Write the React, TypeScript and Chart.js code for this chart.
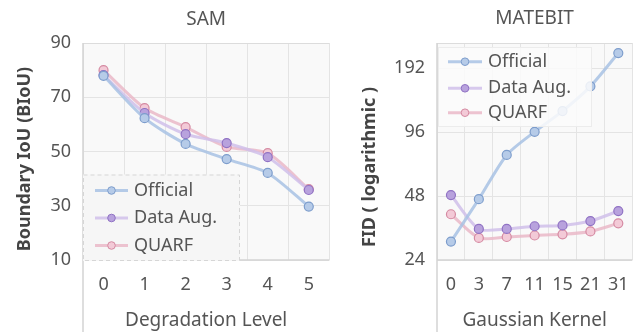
import React, { useEffect, useRef } from "react";
import { Chart, registerables } from "chart.js";
Chart.register(...registerables);

// ---- data ----
const samLevels = ["0", "1", "2", "3", "4", "5"];
const samOfficial = [77.9, 62.3, 52.8, 47.2, 42.1, 29.7];
const samDataAug = [78.2, 64.2, 56.4, 53.1, 47.9, 35.8];
const samQuarf = [80.0, 66.0, 59.0, 51.7, 49.4, 36.1];
const samTicks = [10, 30, 50, 70, 90];

const kernels = ["0", "3", "7", "11", "15", "21", "31"];
const mbOfficial = [29.3, 46.4, 74.9, 96.3, 120.5, 157.5, 226];
const mbDataAug = [48.5, 33.6, 33.6, 34.6, 34.9, 36.6, 40.8];
const mbQuarf = [39.4, 30.5, 30.8, 31.3, 31.7, 32.7, 35.7];
const mbTicks = [24, 48, 96, 192];

const seriesNames = ["Official", "Data Aug.", "QUARF"];

// ---- styles ----
const FONT = "'Noto Sans', 'DejaVu Sans', sans-serif";
const TEXT = "#555";
const GRID = "#e4e4e4";
const seriesStyles = [
  { line: "rgba(168,194,228,0.85)", fill: "#b6cbe8", edge: "#7d9dcc" },
  { line: "rgba(208,192,234,0.85)", fill: "#b8a2dd", edge: "#9072c4" },
  { line: "rgba(234,184,200,0.85)", fill: "#f3cad7", edge: "#d58aa2" },
];

const makeDatasets = (vals: number[][]) =>
  vals.map((v, i) => ({
    label: seriesNames[i],
    data: v,
    borderColor: seriesStyles[i].line,
    borderWidth: 3,
    pointRadius: 4.5,
    pointBorderWidth: 1.2,
    pointBackgroundColor: seriesStyles[i].fill,
    pointBorderColor: seriesStyles[i].edge,
    tension: 0.25,
  }));

const framePlugin = {
  id: "frame",
  beforeDraw(chart: any) {
    const { ctx, chartArea: ca } = chart;
    ctx.save();
    ctx.fillStyle = "#f9f9f9";
    ctx.fillRect(ca.left, ca.top, ca.right - ca.left, ca.bottom - ca.top);
    ctx.restore();
  },
  beforeDatasetsDraw(chart: any) {
    const { ctx, chartArea: ca } = chart;
    ctx.save();
    ctx.strokeStyle = "#dcdcdc";
    ctx.lineWidth = 1;
    ctx.beginPath();
    ctx.moveTo(ca.left, ca.top + 0.5);
    ctx.lineTo(ca.right, ca.top + 0.5);
    ctx.stroke();
    ctx.strokeStyle = "#d4d4d4";
    ctx.lineWidth = 1.5;
    ctx.beginPath();
    ctx.moveTo(ca.left, ca.bottom);
    ctx.lineTo(ca.right, ca.bottom);
    ctx.moveTo(ca.left, ca.top);
    ctx.lineTo(ca.left, chart.height);
    ctx.stroke();
    ctx.restore();
  },
};

const legendPlugin = {
  id: "boxLegend",
  afterDatasetsDraw(chart: any, _a: any, o: any) {
    const { ctx, chartArea: ca } = chart;
    ctx.save();
    const bx = ca.left + o.box[0];
    const by = ca.top + o.box[1];
    ctx.fillStyle = o.fill;
    ctx.fillRect(bx, by, o.box[2], o.box[3]);
    ctx.strokeStyle = o.border;
    ctx.lineWidth = 1;
    ctx.setLineDash(o.dash);
    ctx.strokeRect(bx + 0.5, by + 0.5, o.box[2] - 1, o.box[3] - 1);
    ctx.setLineDash([]);
    chart.data.datasets.forEach((ds: any, i: number) => {
      const y = ca.top + o.rows[i];
      const x0 = ca.left + o.line[0];
      const x1 = ca.left + o.line[1];
      ctx.strokeStyle = ds.borderColor;
      ctx.lineWidth = 3;
      ctx.beginPath();
      ctx.moveTo(x0, y);
      ctx.lineTo(x1, y);
      ctx.stroke();
      ctx.beginPath();
      ctx.arc((x0 + x1) / 2, y, o.r, 0, Math.PI * 2);
      ctx.fillStyle = ds.pointBackgroundColor;
      ctx.fill();
      ctx.lineWidth = 1;
      ctx.strokeStyle = ds.pointBorderColor;
      ctx.stroke();
      ctx.fillStyle = TEXT;
      ctx.font = o.font;
      ctx.textAlign = "left";
      ctx.textBaseline = "middle";
      ctx.fillText(ds.label, ca.left + o.textX, y);
    });
    ctx.restore();
  },
};

const titlesPlugin = {
  id: "titles",
  afterDraw(chart: any, _a: any, o: any) {
    const { ctx, chartArea: ca } = chart;
    ctx.save();
    ctx.font = o.topFont;
    ctx.fillStyle = TEXT;
    ctx.textAlign = "center";
    ctx.textBaseline = "middle";
    ctx.fillText(o.top, (ca.left + ca.right) / 2, o.topY);
    ctx.translate(o.yx, o.yy);
    ctx.rotate(-Math.PI / 2);
    ctx.font = o.yFont;
    ctx.fillStyle = "#444";
    ctx.fillText(o.y, 0, 0);
    ctx.restore();
  },
};

function baseOptions(xTitle: string, yWidth: number, rightPad: number) {
  return {
    animation: false,
    responsive: false,
    devicePixelRatio: 1,
    layout: { padding: { left: 0, right: rightPad, top: 43, bottom: 0 } },
    plugins: {
      legend: { display: false },
      tooltip: { enabled: false },
      title: { display: false },
    },
    scales: {
      x: {
        type: "category",
        offset: true,
        grid: { offset: true, color: GRID, drawTicks: false },
        border: { display: false },
        ticks: { color: TEXT, font: { family: FONT, size: 18 }, padding: 14, maxRotation: 0, autoSkip: false },
        title: {
          display: true,
          text: xTitle,
          color: TEXT,
          font: { family: FONT, size: 19 },
          padding: { top: 0, bottom: 0 },
        },
        afterFit: (s: any) => {
          s.height = 72;
        },
      },
      y: {
        grid: { color: GRID, drawTicks: false },
        border: { display: false },
        ticks: { color: TEXT, font: { family: FONT, size: 18 }, padding: 12 },
        afterFit: (s: any) => {
          s.width = yWidth;
        },
      },
    },
  } as any;
}

export default function App() {
  const leftRef = useRef<HTMLCanvasElement>(null);
  const rightRef = useRef<HTMLCanvasElement>(null);

  useEffect(() => {
    const lo = baseOptions("Degradation Level", 83, 3);
    lo.scales.y.min = 10;
    lo.scales.y.max = 90;
    lo.scales.y.afterBuildTicks = (s: any) => {
      s.ticks = samTicks.map((v) => ({ value: v }));
    };
    lo.plugins.boxLegend = {
      box: [0, 131.5, 157, 86.5],
      fill: "#f6f6f6",
      border: "#d6d6d6",
      dash: [4, 3],
      rows: [147.5, 175, 202.5],
      line: [12, 45],
      r: 3.8,
      textX: 51,
      font: `18px ${FONT}`,
    };
    lo.plugins.titles = {
      top: "SAM",
      topY: 20,
      topFont: `19px ${FONT}`,
      y: "Boundary IoU (BIoU)",
      yx: 25,
      yy: 159,
      yFont: `bold 18px ${FONT}`,
    };
    const left = new Chart(leftRef.current!, {
      type: "line",
      data: { labels: samLevels, datasets: makeDatasets([samOfficial, samDataAug, samQuarf]) as any },
      options: lo,
      plugins: [framePlugin, legendPlugin, titlesPlugin],
    });

    const ro = baseOptions("Gaussian Kernel", 102, 1);
    ro.scales.y.type = "logarithmic";
    ro.scales.y.min = 24;
    ro.scales.y.max = 252;
    ro.scales.y.afterBuildTicks = (s: any) => {
      s.ticks = mbTicks.map((v) => ({ value: v }));
    };
    ro.scales.y.ticks.callback = (v: any) => String(v);
    ro.plugins.boxLegend = {
      box: [1, 4, 154, 80],
      fill: "rgba(251,251,251,0.85)",
      border: "#ececec",
      dash: [],
      rows: [18.7, 45.3, 69.7],
      line: [11, 45],
      r: 3.8,
      textX: 51,
      font: `18px ${FONT}`,
    };
    ro.plugins.titles = {
      top: "MATEBIT",
      topY: 19,
      topFont: `19px ${FONT}`,
      y: "FID ( logarithmic )",
      yx: 35,
      yy: 167,
      yFont: `bold 18px ${FONT}`,
    };
    const right = new Chart(rightRef.current!, {
      type: "line",
      data: { labels: kernels, datasets: makeDatasets([mbOfficial, mbDataAug, mbQuarf]) as any },
      options: ro,
      plugins: [framePlugin, legendPlugin, titlesPlugin],
    });

    return () => {
      left.destroy();
      right.destroy();
    };
  }, []);

  return (
    <div style={{ position: "absolute", left: 0, top: 0, width: 643, height: 332, background: "#fff" }}>
      <canvas ref={leftRef} width={335} height={332} style={{ position: "absolute", left: 0, top: 0 }} />
      <canvas ref={rightRef} width={308} height={332} style={{ position: "absolute", left: 335, top: 0 }} />
    </div>
  );
}
